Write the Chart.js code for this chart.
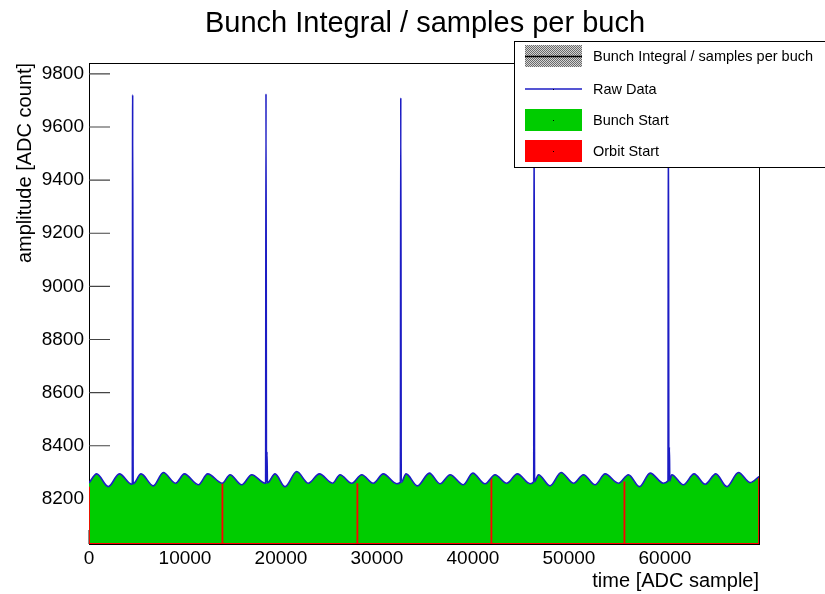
<!DOCTYPE html>
<html>
<head>
<meta charset="utf-8">
<script src="https://cdn.jsdelivr.net/npm/chart.js@4.4.0/dist/chart.umd.min.js"></script>
<style>
  html, body { margin: 0; padding: 0; background: #fff; }
</style>
</head>
<body>
<canvas id="myChart" width="825" height="594"></canvas>
<script>
// axis ranges and tick labels
const xMax = 69800;
const yMin = 8030, yMax = 9841;
const xTicks = [0, 10000, 20000, 30000, 40000, 50000, 60000];
const yTicks = [8200, 8400, 8600, 8800, 9000, 9200, 9400, 9600, 9800];

// baseline ripple of the raw signal: sample index / ADC count (peaks and troughs)
const rippleAt = [0, 800, 2010, 3160, 4450, 5420, 6700, 7745, 9030, 9935, 11390, 12365,
  13890, 14690, 15910, 16950, 18340, 19380, 20420, 21640, 22850, 24000, 25380, 26150,
  27370, 28410, 29620, 30660, 32060, 33030, 34210, 35460, 36570, 37620, 39000, 39980,
  41260, 42300, 43520, 44630, 45950, 46820, 48040, 49180, 50470, 51510, 52720, 53770,
  55150, 56200, 57350, 58460, 59840, 60710, 61920, 63040, 64190, 65300, 66450, 67660,
  68880, 69800];
const rippleLevel = [8260, 8294, 8246, 8294, 8255, 8294, 8249, 8299, 8259, 8294, 8253, 8294,
  8259, 8291, 8253, 8291, 8259, 8294, 8246, 8303, 8259, 8294, 8259, 8291,
  8259, 8291, 8259, 8294, 8257, 8294, 8249, 8297, 8257, 8291, 8253, 8297,
  8257, 8291, 8259, 8294, 8257, 8291, 8249, 8299, 8259, 8291, 8253, 8294,
  8259, 8291, 8246, 8297, 8259, 8291, 8253, 8294, 8255, 8294, 8246, 8299,
  8261, 8284];

// the single large pulse once per orbit
const spikeAt = [4550, 18440, 32480, 46370, 60360];
const spikeTop = [9721, 9725, 9710, 9715, 9720];
const spikeShoulder = [null, 8377, null, null, 8395];
const spikeFoot = [8257, 8260, 8262, 8265, 8268];
const bunchTop = [8320, 8322, 8328, 8332, 8346];

// orbit start markers
const orbitAt = [0, 13900, 27960, 41920, 55780];
const orbitLevel = [8246, 8259, 8259, 8278, 8265];
const lastBinLevel = 8284;

const FONT = 'Liberation Sans, Arial, Helvetica, sans-serif';

function byX(a, b) { return a.x - b.x; }

const ripplePts = rippleAt.map((x, i) => ({x: x, y: rippleLevel[i]}));

const rawPts = ripplePts.slice();
spikeAt.forEach((x, i) => {
  rawPts.push({x: x - 40, y: spikeFoot[i]}, {x: x, y: spikeTop[i]}, {x: x + 50, y: spikeFoot[i]});
  if (spikeShoulder[i]) {
    rawPts.push({x: x + 100, y: spikeShoulder[i]}, {x: x + 150, y: spikeFoot[i]});
  }
});
rawPts.sort(byX);

const bunchPts = ripplePts.slice();
spikeAt.forEach((x, i) => {
  bunchPts.push({x: x - 40, y: spikeFoot[i]}, {x: x, y: bunchTop[i]}, {x: x + 50, y: spikeFoot[i]});
});
bunchPts.sort(byX);

const orbitPts = [];
orbitAt.forEach((x, i) => {
  orbitPts.push({x: x, y: yMin}, {x: x, y: orbitLevel[i]}, {x: x, y: yMin});
});
orbitPts.push({x: xMax, y: yMin}, {x: xMax, y: lastBinLevel});

// stipple used for the bunch integral legend entry
const dots = document.createElement('canvas');
dots.width = 2; dots.height = 2;
const dctx = dots.getContext('2d');
dctx.fillStyle = '#d4d4d4'; dctx.fillRect(0, 0, 2, 2);
dctx.fillStyle = '#6a6a6a'; dctx.fillRect(0, 0, 1, 1); dctx.fillRect(1, 1, 1, 1);
const ctx = document.getElementById('myChart').getContext('2d');
const stipple = ctx.createPattern(dots, 'repeat');

const legendKind = ['hatch', 'line', 'box', 'box'];

const frameAndLegend = {
  id: 'frameAndLegend',
  beforeDatasetsDraw(chart) {
    const c = chart.ctx, a = chart.chartArea;
    const xs = chart.scales.x, ys = chart.scales.y;
    c.save();
    c.strokeStyle = '#000';
    c.lineWidth = 1;
    c.strokeRect(a.left + 0.5, a.top + 0.5, a.right - a.left, a.bottom - a.top);
    c.strokeStyle = '#444';
    c.lineWidth = 1.2;
    c.beginPath();
    yTicks.forEach(v => {
      const py = ys.getPixelForValue(v);
      c.moveTo(a.left, py); c.lineTo(a.left + 21, py);
    });
    xTicks.forEach(v => {
      const px = xs.getPixelForValue(v);
      c.moveTo(px, a.bottom); c.lineTo(px, a.bottom - 14);
    });
    c.stroke();
    c.restore();
  },
  afterDraw(chart) {
    const c = chart.ctx;
    c.save();
    // title
    c.fillStyle = '#000';
    c.font = '29px ' + FONT;
    c.textAlign = 'center';
    c.textBaseline = 'alphabetic';
    c.fillText('Bunch Integral / samples per buch', 425, 32);

    // legend box
    c.fillStyle = '#fff';
    c.fillRect(514, 41, 320, 126);
    c.strokeStyle = '#000';
    c.lineWidth = 1;
    c.strokeRect(514.5, 41.5, 320, 126);

    const rows = [56, 89, 120, 151];
    c.font = '14.5px ' + FONT;
    c.textAlign = 'left';
    c.textBaseline = 'middle';
    chart.data.datasets.forEach((ds, i) => {
      const cy = rows[i];
      const kind = legendKind[i];
      if (kind === 'hatch') {
        c.fillStyle = stipple;
        c.fillRect(525, cy - 11, 57, 22);
        c.strokeStyle = '#000';
        c.lineWidth = 1.4;
        c.beginPath(); c.moveTo(525, cy + 0.5); c.lineTo(582, cy + 0.5); c.stroke();
      } else if (kind === 'line') {
        c.strokeStyle = ds.borderColor;
        c.lineWidth = 1.3;
        c.beginPath(); c.moveTo(525, cy); c.lineTo(582, cy); c.stroke();
      } else {
        c.fillStyle = ds.backgroundColor;
        c.fillRect(525, cy - 11, 57, 22);
      }
      c.fillStyle = '#000';
      c.fillRect(553, cy, 1, 1);
      c.fillText(ds.label, 593, cy + 1);
    });
    c.restore();
  }
};

const tickFont = {family: FONT, size: 19};
const titleFont = {family: FONT, size: 20};

new Chart(ctx, {
  type: 'line',
  data: {
    datasets: [{
      label: 'Bunch Integral / samples per buch',
      data: [],
      backgroundColor: stipple,
      borderColor: '#000',
      borderWidth: 1,
      order: 3
    }, {
      label: 'Raw Data',
      data: rawPts,
      borderColor: '#1c1cc4',
      borderWidth: 1.6,
      borderJoinStyle: 'round',
      cubicInterpolationMode: 'monotone',
      fill: false,
      order: 0
    }, {
      label: 'Bunch Start',
      data: bunchPts,
      borderWidth: 0,
      borderColor: 'rgba(0,0,0,0)',
      backgroundColor: '#00cc00',
      cubicInterpolationMode: 'monotone',
      fill: 'start',
      order: 2
    }, {
      label: 'Orbit Start',
      data: orbitPts,
      borderColor: '#ff0000',
      backgroundColor: '#ff0000',
      borderWidth: 1.8,
      tension: 0,
      fill: false,
      order: 1
    }]
  },
  options: {
    responsive: false,
    animation: false,
    events: [],
    layout: {padding: {top: 63, right: 66, left: 0, bottom: 0}},
    elements: {point: {radius: 0}},
    plugins: {
      legend: {display: false},
      title: {display: false},
      tooltip: {enabled: false}
    },
    scales: {
      x: {
        type: 'linear',
        min: 0,
        max: xMax,
        grid: {display: false, drawTicks: false},
        border: {display: false},
        afterBuildTicks: s => { s.ticks = xTicks.map(v => ({value: v})); },
        afterFit: s => { s.height = 50; },
        ticks: {font: tickFont, color: '#000', padding: 3, maxRotation: 0, autoSkip: false,
                callback: v => String(v)},
        title: {display: true, text: 'time [ADC sample]', align: 'end', font: titleFont,
                color: '#000', padding: {top: 0, bottom: 1}}
      },
      y: {
        type: 'linear',
        min: yMin,
        max: yMax,
        grid: {display: false, drawTicks: false},
        border: {display: false},
        afterBuildTicks: s => { s.ticks = yTicks.map(v => ({value: v})); },
        afterFit: s => { s.width = 89; },
        ticks: {font: tickFont, color: '#000', padding: 5, callback: v => String(v)},
        title: {display: true, text: 'amplitude [ADC count]', align: 'end', font: titleFont,
                color: '#000', padding: {top: 13, bottom: 0}}
      }
    }
  },
  plugins: [frameAndLegend]
});
</script>
</body>
</html>
